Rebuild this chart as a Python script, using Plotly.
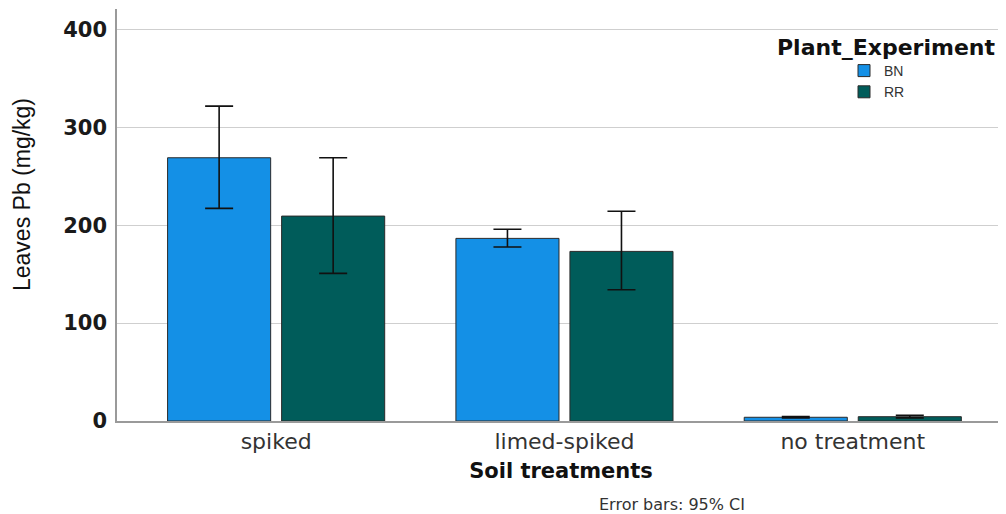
import plotly.graph_objects as go

categories = ["spiked", "limed-spiked", "no treatment"]
bn_mean = [269.0, 186.6, 3.8]
bn_ci_low = [217.3, 177.8, 3.1]
bn_ci_high = [321.8, 196.0, 4.6]
rr_mean = [209.4, 173.3, 4.4]
rr_ci_low = [150.9, 134.1, 3.2]
rr_ci_high = [269.0, 214.3, 5.8]
y_ticks = [0, 100, 200, 300, 400]

BN_COLOR = "#1490e6"
RR_COLOR = "#005c5a"

# The page body has an 8px margin; the figure is sized so the plot area
# lands where the reference has it.
FIG_W, FIG_H = 998, 506


def err(mean, lo, hi):
    return dict(
        type="data", symmetric=False,
        array=[h - m for h, m in zip(hi, mean)],
        arrayminus=[m - l for m, l in zip(mean, lo)],
        color="#111111", thickness=1.6, width=14,
    )


fig = go.Figure()
fig.add_trace(go.Bar(
    name="BN", x=categories, y=bn_mean,
    marker=dict(color=BN_COLOR, line=dict(color="#2a2a2a", width=1)),
    error_y=err(bn_mean, bn_ci_low, bn_ci_high),
))
fig.add_trace(go.Bar(
    name="RR", x=categories, y=rr_mean,
    marker=dict(color=RR_COLOR, line=dict(color="#2a2a2a", width=1)),
    error_y=err(rr_mean, rr_ci_low, rr_ci_high),
))

# plot area: x 117..1005, y 9..421 in window pixels
ml, mt = 109, 1
mr = FIG_W - (1005 - 8)
mb = FIG_H - (421 - 8)
pw = FIG_W - ml - mr
ph = FIG_H - mt - mb


def px_x(x):
    return (x - 8 - ml) / pw


def px_y(y):
    return (FIG_H - mb - (y - 8)) / ph


fig.update_layout(
    width=FIG_W, height=FIG_H,
    margin=dict(l=ml, r=mr, t=mt, b=mb, autoexpand=False),
    paper_bgcolor="white", plot_bgcolor="white",
    barmode="group", bargap=0.209, bargroupgap=0.096,
    font=dict(family="Liberation Sans, Arial, sans-serif", color="#222222"),
    showlegend=True,
    legend=dict(
        x=px_x(844), xanchor="left", y=px_y(55), yanchor="top",
        font=dict(family="Liberation Sans, Arial, sans-serif", size=14, color="#333333"),
        bgcolor="rgba(0,0,0,0)", tracegroupgap=0, itemwidth=30,
    ),
    xaxis=dict(
        range=[-0.552, 2.528],
        showgrid=False, showline=True, linecolor="#9a9a9a", linewidth=1.5,
        ticks="", tickfont=dict(family="DejaVu Sans, sans-serif", size=22, color="#333333"),
        title=dict(text="<b>Soil treatments</b>", standoff=10,
                   font=dict(family="DejaVu Sans, sans-serif", size=21, color="#111111")),
        zeroline=False,
    ),
    yaxis=dict(
        range=[0, 421], tickvals=y_ticks,
        showgrid=True, gridcolor="#cfcfcf", gridwidth=1,
        showline=True, linecolor="#9a9a9a", linewidth=1.5,
        ticks="", ticklabelstandoff=4,
        tickfont=dict(family="DejaVu Sans, sans-serif", size=21, color="#1a1a1a", weight="bold"),
        zeroline=False,
    ),
    annotations=[
        dict(
            text="Leaves Pb (mg/kg)", xref="paper", yref="paper",
            x=px_x(22), y=px_y(195), xanchor="center", yanchor="middle",
            textangle=-90, showarrow=False,
            font=dict(family="Liberation Sans, Arial, sans-serif", size=23, color="#111111"),
        ),
        dict(
            text="<b>Plant_Experiment</b>", xref="paper", yref="paper",
            x=px_x(886), y=px_y(48), xanchor="center", yanchor="middle", showarrow=False,
            font=dict(family="DejaVu Sans, sans-serif", size=22, color="#111111"),
        ),
        dict(
            text="Error bars: 95% CI", xref="paper", yref="paper",
            x=px_x(672), y=px_y(505), xanchor="center", yanchor="middle", showarrow=False,
            font=dict(family="DejaVu Sans, sans-serif", size=16, color="#333333"),
        ),
    ],
)

fig.write_html("out.html")
